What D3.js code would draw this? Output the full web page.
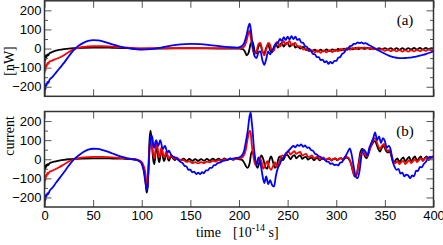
<!DOCTYPE html>
<html>
<head>
<meta charset="utf-8">
<script src="https://cdn.jsdelivr.net/npm/d3@7"></script>
<style>
  html, body { margin: 0; padding: 0; background: #fff; }
  svg { display: block; font-family: "Liberation Serif", "DejaVu Serif", serif; }
  .tick text { font-size: 13px; fill: #000; }
  .tick line { stroke: #555; stroke-width: 1; }
  .domain { display: none; }
</style>
</head>
<body>
<svg id="chart" width="443" height="245"></svg>
<script>
// --- DATA: [time (1e-14 s), current (nW)] ---
const blackA = [[0,-90],[0.5,-45],[1,-60],[1.5,-35],[2,-45],[3,-30],[4,-35],[5,-25],[7,-20],[10,-13],[15,-7],[20,-3],[25,0],[30,2],[40,4],[50,5],[60,5],[70,4],[80,3],[90,1],[100,0],[120,0],[150,1],[180,0],[200,0],[204,-3],[206,-15],[208,-35],[210,-20],[212,25],[214,35],[216,-10],[218,-25],[220,10],[222,20],[224,-15],[226,-25],[228,5],[230,20],[232,-10],[234,-20],[236,10],[238,25],[240,5],[242,20],[244,30],[246,10],[248,25],[250,30],[252,10],[254,20],[256,25],[258,5],[260,12],[263,0],[266,8],[269,-8],[272,-2],[275,-14],[278,-6],[281,-16],[284,-6],[287,-15],[290,-5],[293,-14],[296,-4],[299,-12],[302,-2],[305,-10],[308,0],[311,-6],[314,2],[317,-4],[320,3],[323,-3],[326,4],[329,-2],[332,4],[335,-3],[338,3],[341,-4],[344,2],[347,-5],[350,2],[353,-5],[356,2],[359,-6],[362,2],[365,-6],[368,2],[371,-6],[374,2],[377,-5],[380,3],[383,-5],[386,3],[389,-4],[392,3],[395,-3],[398,2],[400,0]];

const redA = [[0,-130],[0.5,-100],[1,-115],[1.5,-85],[2,-95],[3,-75],[4,-80],[5,-68],[7,-65],[10,-58],[15,-48],[20,-35],[25,-18],[30,-4],[35,4],[40,9],[50,12],[60,12],[70,10],[80,6],[90,3],[100,1],[120,2],[150,3],[180,2],[200,2],[204,5],[206,15],[208,45],[210,85],[211,95],[212,60],[214,0],[216,-30],[218,-15],[220,25],[222,30],[224,-10],[226,-35],[228,-5],[230,30],[232,20],[234,-15],[236,-10],[238,30],[240,35],[242,10],[244,25],[246,40],[248,20],[250,30],[252,40],[254,15],[256,25],[258,30],[260,10],[263,12],[266,-5],[269,0],[272,-15],[275,-8],[278,-20],[281,-10],[284,-22],[287,-10],[290,-20],[293,-8],[296,-18],[299,-6],[302,-14],[305,-2],[308,-10],[311,2],[314,-6],[317,4],[320,-3],[323,6],[326,0],[329,6],[332,0],[335,4],[338,-4],[341,0],[344,-8],[347,-3],[350,-12],[353,-5],[356,-14],[359,-6],[362,-15],[365,-7],[368,-16],[371,-8],[374,-16],[377,-8],[380,-15],[383,-7],[386,-14],[389,-6],[392,-12],[395,-5],[398,-10],[400,-6]];

const blueA = [[0,-250],[0.5,-200],[1,-215],[1.5,-185],[2,-195],[3,-175],[4,-180],[5,-165],[8,-150],[12,-125],[16,-100],[20,-75],[25,-40],[30,-8],[35,15],[40,30],[45,40],[50,44],[55,43],[60,38],[65,30],[70,22],[75,14],[80,8],[85,3],[90,-1],[95,-4],[100,-5],[110,-3],[120,5],[130,15],[140,22],[150,25],[160,23],[170,18],[180,12],[190,7],[198,5],[202,10],[205,25],[208,75],[210,120],[211,130],[212,105],[214,20],[216,-40],[218,-50],[220,-20],[222,-15],[224,-60],[226,-85],[228,-55],[230,-15],[232,-30],[234,-10],[236,5],[238,25],[240,30],[242,50],[244,40],[246,60],[248,45],[250,62],[252,48],[254,65],[256,50],[258,62],[260,45],[262,50],[264,32],[266,30],[268,12],[270,8],[272,-8],[274,-12],[276,-28],[278,-30],[280,-45],[282,-45],[284,-60],[286,-58],[288,-72],[290,-66],[292,-80],[294,-70],[296,-78],[298,-65],[300,-65],[302,-48],[304,-45],[306,-28],[308,-22],[310,-6],[312,0],[314,12],[316,15],[318,24],[320,25],[322,32],[324,28],[326,32],[328,26],[330,28],[333,20],[336,12],[339,3],[342,-6],[345,-14],[348,-22],[351,-30],[354,-37],[357,-42],[360,-46],[363,-49],[366,-50],[369,-50],[372,-49],[375,-48],[378,-46],[381,-43],[384,-40],[387,-36],[390,-32],[393,-27],[396,-22],[400,-15]];

const blackB = [[0,-70],[0.5,-35],[1,-50],[1.5,-30],[2,-38],[3,-25],[4,-30],[5,-22],[7,-17],[10,-12],[15,-7],[20,-3],[25,0],[30,2],[40,4],[50,5],[60,5],[70,4],[80,3],[90,1],[95,-3],[98,-10],[100,-20],[102,-50],[104,-120],[105,-175],[106,-150],[107,-30],[108,100],[109,150],[110,110],[111,40],[112,-10],[113,-25],[114,20],[115,70],[116,50],[117,5],[118,-15],[119,10],[120,45],[121,40],[122,5],[123,-10],[124,5],[125,30],[126,25],[127,0],[128,-8],[130,15],[132,5],[134,-5],[136,8],[138,0],[140,-6],[143,3],[146,-8],[149,2],[152,-9],[155,1],[158,-9],[161,1],[164,-8],[167,2],[170,-7],[173,3],[176,-6],[179,3],[182,-5],[185,4],[188,-4],[191,4],[194,-3],[197,4],[200,0],[203,-3],[205,-15],[207,-35],[209,-45],[211,-20],[213,40],[215,30],[217,-20],[219,-45],[221,-15],[223,20],[225,0],[227,-40],[229,-50],[231,-10],[233,15],[235,-15],[237,-45],[239,-30],[241,10],[243,15],[245,-5],[247,10],[249,25],[251,15],[253,0],[255,15],[257,22],[259,5],[261,15],[263,20],[265,2],[267,10],[269,12],[271,-2],[273,5],[275,8],[277,-5],[279,4],[281,6],[283,-6],[285,3],[287,5],[289,-6],[291,2],[293,4],[295,-7],[297,2],[299,4],[301,-5],[303,4],[305,6],[307,-4],[309,5],[311,8],[313,0],[315,-20],[317,-60],[319,-90],[321,-80],[323,-20],[325,40],[327,55],[329,20],[331,5],[333,25],[335,60],[337,80],[339,95],[341,85],[343,55],[345,40],[347,60],[349,70],[351,45],[353,35],[355,40],[357,10],[359,-20],[361,-5],[363,5],[365,-15],[367,0],[369,10],[371,-12],[373,2],[375,12],[377,-12],[379,4],[381,15],[383,-10],[385,5],[387,15],[389,-8],[391,6],[393,15],[395,-5],[397,8],[400,15]];

const redB = [[0,-150],[0.5,-90],[1,-110],[1.5,-80],[2,-90],[3,-72],[4,-76],[5,-66],[7,-62],[10,-55],[15,-42],[20,-27],[25,-12],[30,0],[35,6],[40,10],[50,12],[60,12],[70,10],[80,6],[90,2],[95,-2],[98,-8],[100,-15],[102,-35],[104,-80],[105,-130],[106,-120],[107,-40],[108,60],[109,100],[110,95],[111,60],[112,20],[113,5],[114,40],[115,85],[116,75],[117,30],[118,10],[119,30],[120,60],[121,55],[122,25],[123,10],[124,20],[125,40],[126,35],[127,12],[128,5],[130,20],[132,10],[134,2],[136,8],[138,-2],[140,-6],[143,-4],[146,-14],[149,-10],[152,-20],[155,-15],[158,-22],[161,-15],[164,-20],[167,-12],[170,-16],[173,-8],[176,-12],[179,-4],[182,-7],[185,0],[188,-3],[191,3],[194,0],[197,4],[200,3],[203,8],[205,20],[207,50],[209,110],[211,150],[212,140],[213,80],[215,10],[217,-30],[219,-15],[221,10],[223,-10],[225,-50],[227,-30],[229,-10],[231,-40],[233,-55],[235,-35],[237,-15],[239,-40],[241,-20],[243,10],[245,20],[247,15],[249,30],[251,40],[253,25],[255,35],[257,42],[259,28],[261,35],[263,38],[265,20],[267,25],[269,28],[271,12],[273,15],[275,20],[277,5],[279,10],[281,14],[283,0],[285,6],[287,10],[289,-4],[291,2],[293,6],[295,-6],[297,0],[299,4],[301,-4],[303,2],[305,6],[307,0],[309,8],[311,12],[313,5],[315,-20],[317,-60],[319,-85],[321,-75],[323,-30],[325,20],[327,45],[329,30],[331,15],[333,30],[335,60],[337,85],[339,110],[341,100],[343,70],[345,55],[347,70],[349,80],[351,55],[353,45],[355,48],[357,20],[359,-15],[361,-20],[363,-10],[365,-25],[367,-15],[369,-8],[371,-25],[373,-15],[375,-5],[377,-20],[379,-10],[381,0],[383,-15],[385,-5],[387,5],[389,-8],[391,2],[393,10],[395,0],[397,10],[400,15]];

const blueB = [[0,-250],[0.5,-200],[1,-215],[1.5,-185],[2,-195],[3,-178],[4,-182],[5,-168],[8,-150],[12,-122],[16,-95],[20,-68],[25,-33],[30,-2],[35,20],[40,38],[45,50],[50,55],[55,54],[60,48],[65,40],[70,30],[75,20],[80,12],[85,5],[90,0],[95,-5],[98,-12],[100,-25],[102,-60],[104,-130],[105,-160],[106,-145],[107,-50],[108,50],[109,110],[110,125],[111,110],[112,70],[113,60],[114,90],[115,100],[116,80],[117,70],[118,85],[119,100],[120,85],[121,60],[122,55],[123,65],[124,70],[125,55],[126,40],[127,38],[128,45],[130,25],[132,15],[134,10],[136,2],[138,-5],[140,-15],[142,-20],[144,-35],[146,-38],[148,-55],[150,-55],[152,-68],[154,-65],[156,-78],[158,-70],[160,-78],[162,-68],[164,-72],[166,-58],[168,-58],[170,-45],[172,-45],[174,-32],[176,-30],[178,-20],[180,-18],[183,-10],[186,-6],[189,0],[192,2],[195,5],[198,7],[201,12],[203,20],[205,40],[207,90],[209,150],[211,230],[212,245],[213,200],[214,150],[215,80],[216,30],[218,-30],[220,10],[222,-20],[224,-80],[226,-125],[228,-90],[230,-130],[232,-110],[234,-135],[236,-143],[238,-85],[240,-45],[242,-25],[244,0],[246,10],[248,30],[250,40],[252,50],[254,62],[256,70],[258,62],[260,75],[262,70],[264,78],[266,65],[268,72],[270,60],[272,62],[274,48],[276,45],[278,30],[280,25],[282,15],[284,12],[286,2],[288,0],[290,-12],[292,-12],[294,-24],[296,-22],[298,-30],[300,-28],[302,-32],[304,-18],[306,-15],[308,5],[310,20],[312,40],[314,57],[316,20],[318,-40],[320,-90],[322,-99],[324,-60],[326,20],[328,50],[330,40],[332,20],[334,60],[336,85],[338,110],[340,140],[342,100],[344,120],[346,85],[348,110],[350,95],[352,60],[354,70],[356,50],[358,-10],[360,-40],[362,-56],[364,-50],[366,-75],[368,-70],[370,-90],[372,-80],[374,-85],[376,-99],[378,-85],[380,-90],[382,-60],[384,-62],[386,-40],[388,-42],[390,-25],[392,-15],[394,5],[396,12],[398,8],[400,10]];

const xTicks = [0, 50, 100, 150, 200, 250, 300, 350, 400];
const yTicks = [-200, -100, 0, 100, 200];
const yMinor = [-150, -50, 50, 150];

// --- LAYOUT ---
const X0 = 44.5, X1 = 433.5;
const panels = [
  { top: 0.8, bottom: 96.3, label: "(a)", series: [blackA, redA, blueA], xLabels: false },
  { top: 111.5, bottom: 207, label: "(b)", series: [blackB, redB, blueB], xLabels: true }
];
const COLORS = ["#000000", "#ff0000", "#0000ff"];

const svg = d3.select("#chart");
const x = d3.scaleLinear().domain([0, 400]).range([X0, X1]);

panels.forEach((p, i) => {
  const y = d3.scaleLinear().domain([-250, 250]).range([p.bottom, p.top]);
  const g = svg.append("g");

  g.append("clipPath").attr("id", "clip" + i)
    .append("rect").attr("x", X0).attr("y", p.top).attr("width", X1 - X0).attr("height", p.bottom - p.top);

  // lines
  const line = d3.line().x(d => x(d[0])).y(d => y(d[1])).curve(d3.curveMonotoneX);
  const lines = g.append("g").attr("clip-path", `url(#clip${i})`);
  p.series.forEach((s, k) => {
    lines.append("path").datum(s)
      .attr("d", line)
      .attr("fill", "none")
      .attr("stroke", COLORS[k])
      .attr("stroke-width", 1.8)
      .attr("stroke-linejoin", "round");
  });

  // axes, ticks pointing inward
  g.append("g").attr("transform", `translate(${X0},0)`)
    .call(d3.axisLeft(y).tickValues(yTicks).tickSizeInner(-7).tickPadding(3).tickFormat(d3.format("d")));
  g.append("g").attr("transform", `translate(${X0},0)`)
    .call(d3.axisLeft(y).tickValues(yMinor).tickSizeInner(-3.5).tickFormat(""));
  g.append("g").attr("transform", `translate(${X1},0)`)
    .call(d3.axisRight(y).tickValues(yTicks).tickSizeInner(-7).tickFormat(""));
  g.append("g").attr("transform", `translate(${X1},0)`)
    .call(d3.axisRight(y).tickValues(yMinor).tickSizeInner(-3.5).tickFormat(""));
  g.append("g").attr("transform", `translate(0,${p.top})`)
    .call(d3.axisTop(x).tickValues(xTicks).tickSizeInner(-7).tickFormat(""));
  g.append("g").attr("transform", `translate(0,${p.bottom})`)
    .call(d3.axisBottom(x).tickValues(xTicks).tickSizeInner(-7).tickPadding(4)
      .tickFormat(p.xLabels ? d3.format("d") : ""));

  // frame
  g.append("rect")
    .attr("x", X0).attr("y", p.top)
    .attr("width", X1 - X0).attr("height", p.bottom - p.top)
    .attr("fill", "none").attr("stroke", "#333").attr("stroke-width", 1.5);

  g.append("text")
    .attr("x", 405).attr("y", p.top + 24)
    .attr("text-anchor", "middle")
    .style("font-size", "15px")
    .text(p.label);
});

// axis titles
svg.append("text")
  .attr("x", 196).attr("y", 237)
  .style("font-size", "14px")
  .text("time");
const xt = svg.append("text")
  .attr("x", 233).attr("y", 237)
  .style("font-size", "14px");
xt.append("tspan").text("[10");
xt.append("tspan").attr("dy", -6).style("font-size", "10px").text("-14");
xt.append("tspan").attr("dy", 6).text(" s]");

svg.append("text")
  .attr("transform", "translate(14,136) rotate(-90)")
  .attr("text-anchor", "middle")
  .style("font-size", "14px")
  .text("current");
svg.append("text")
  .attr("transform", "translate(14,61) rotate(-90)")
  .attr("text-anchor", "middle")
  .style("font-size", "14px")
  .text("[nW]");
</script>
</body>
</html>
